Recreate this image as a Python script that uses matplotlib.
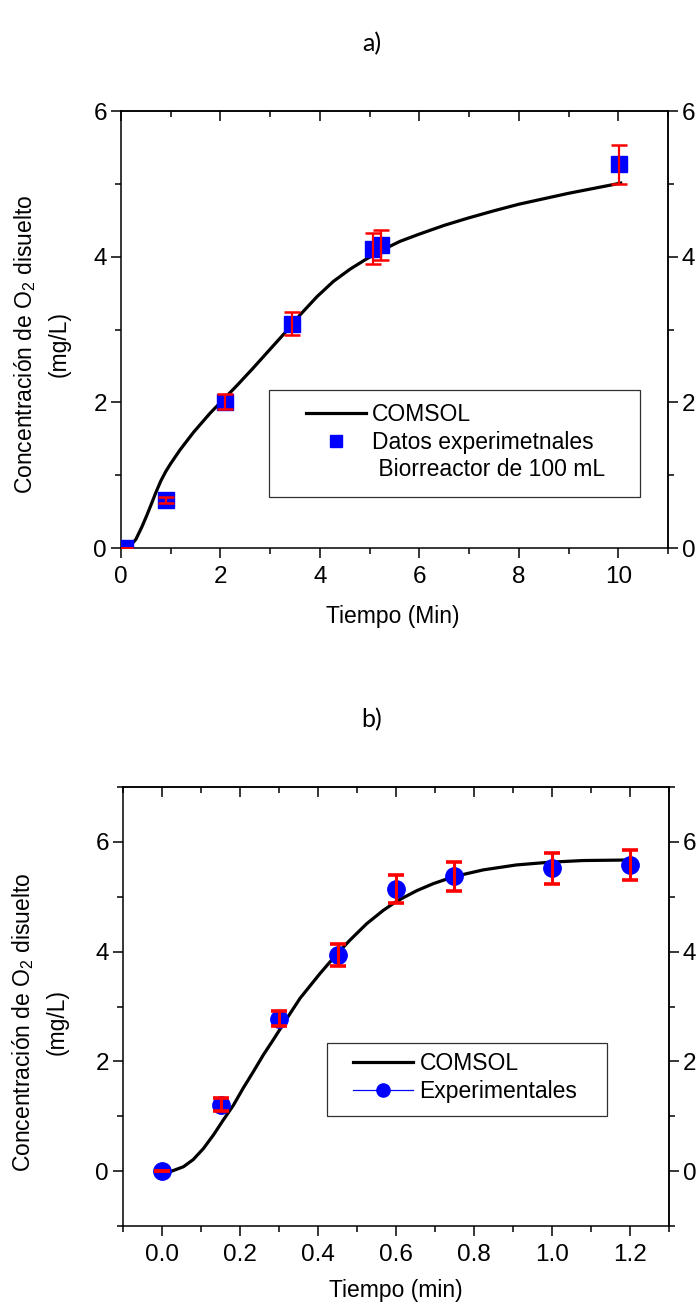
import matplotlib
matplotlib.use("Agg")
import matplotlib.pyplot as plt
from matplotlib.ticker import MultipleLocator
from matplotlib.lines import Line2D
from matplotlib.patches import Rectangle

plt.rcParams["font.family"] = ["Liberation Sans", "DejaVu Sans"]
plt.rcParams["mathtext.default"] = "regular"

# panel a) - 100 mL bioreactor
exp_a_t = [0.08, 0.9, 2.09, 3.43, 5.06, 5.22, 10.02]
exp_a_c = [0.0, 0.66, 2.01, 3.08, 4.11, 4.16, 5.27]
exp_a_err = [0.0, 0.04, 0.1, 0.16, 0.21, 0.21, 0.27]

sim_a_t = [0.15, 0.3, 0.42, 0.52, 0.62, 0.7, 0.8, 0.9, 1.0, 1.19, 1.46,
           1.79, 2.06, 2.33, 2.63, 2.96, 3.33, 3.6, 3.94, 4.27, 4.61, 4.94,
           5.28, 5.61, 6.0, 6.5, 6.98, 7.5, 8.0, 9.0, 10.05]
sim_a_c = [0.0, 0.12, 0.29, 0.45, 0.62, 0.76, 0.92, 1.05, 1.16, 1.35, 1.59,
           1.85, 2.04, 2.23, 2.45, 2.7, 2.98, 3.2, 3.45, 3.66, 3.83, 3.97,
           4.1, 4.21, 4.31, 4.43, 4.53, 4.63, 4.72, 4.87, 5.01]

# panel b)
exp_b_t = [0.0, 0.15, 0.3, 0.45, 0.6, 0.75, 1.0, 1.2]
exp_b_c = [0.0, 1.21, 2.78, 3.94, 5.14, 5.37, 5.52, 5.58]
exp_b_err = [0.0, 0.12, 0.14, 0.2, 0.25, 0.265, 0.28, 0.28]

sim_b_t = [0.0, 0.025, 0.055, 0.08, 0.106, 0.132, 0.157, 0.183, 0.208, 0.234,
           0.26, 0.285, 0.32, 0.354, 0.405, 0.45, 0.482, 0.525, 0.567, 0.602,
           0.653, 0.696, 0.75, 0.824, 0.909, 0.995, 1.08, 1.2]
sim_b_c = [0.0, 0.0, 0.08, 0.21, 0.41, 0.66, 0.93, 1.2, 1.51, 1.81,
           2.12, 2.39, 2.78, 3.15, 3.6, 3.97, 4.21, 4.51, 4.75, 4.92,
           5.11, 5.24, 5.37, 5.49, 5.58, 5.63, 5.66, 5.67]

W, H = 696, 1307
FS = 16.5
TFS = 17.5


def fx(px):
    return px / W


def fy(py):
    return 1 - py / H


def style_axes(ax, xmaj, xmin, ymaj, ymin):
    for axis, (mj, mn) in ((ax.xaxis, (xmaj, xmin)), (ax.yaxis, (ymaj, ymin))):
        axis.set_major_locator(MultipleLocator(mj))
        axis.set_minor_locator(MultipleLocator(mn))
    ax.tick_params(which="both", direction="out", width=1.1, labelsize=TFS)
    ax.tick_params(axis="x", pad=6)
    ax.tick_params(axis="y", pad=3)
    ax.tick_params(which="major", length=7)
    ax.tick_params(which="minor", length=4)
    for s in ax.spines.values():
        s.set_linewidth(1.1)

    top = ax.secondary_xaxis("top")
    top.xaxis.set_major_locator(MultipleLocator(xmaj))
    top.xaxis.set_minor_locator(MultipleLocator(xmin))
    top.tick_params(which="both", direction="in", width=1.1, labeltop=False)
    top.tick_params(which="major", length=7)
    top.tick_params(which="minor", length=4)
    top.spines["top"].set_linewidth(1.1)

    right = ax.secondary_yaxis("right")
    right.yaxis.set_major_locator(MultipleLocator(ymaj))
    right.yaxis.set_minor_locator(MultipleLocator(ymin))
    right.tick_params(which="both", direction="out", width=1.1,
                      labelsize=TFS, pad=3)
    right.tick_params(which="major", length=7)
    right.tick_params(which="minor", length=4)
    right.spines["right"].set_linewidth(1.1)


fig = plt.figure(figsize=(W / 100, H / 100), dpi=100)

# ---- a)
ax1 = fig.add_axes([fx(121), fy(548), fx(668 - 121), (548 - 111) / H])
ax1.plot(sim_a_t, sim_a_c, color="black", lw=2.3, zorder=2)
ax1.plot(exp_a_t, exp_a_c, "s", color="blue", ms=11, zorder=3)
ax1.errorbar(exp_a_t, exp_a_c, yerr=exp_a_err, fmt="none", ecolor="red",
             elinewidth=1.6, capsize=5.5, capthick=1.8, zorder=4)
ax1.set_xlim(0, 11)
ax1.set_ylim(0, 6)
style_axes(ax1, 2, 1, 2, 1)

fig.text(fx(372), fy(44), "a)", family=["Lato", "DejaVu Sans"], fontsize=18,
         ha="center", va="center")
fig.text(fx(25), fy(344), "Concentración de O$_2$ disuelto", rotation=90,
         fontsize=FS, ha="center", va="center")
fig.text(fx(59), fy(344), "(mg/L)", rotation=90, fontsize=FS,
         ha="center", va="center")
fig.text(fx(393), fy(617), "Tiempo (Min)", fontsize=FS, ha="center", va="center")

handles_a = [Line2D([], [], color="black", lw=2.3),
             Line2D([], [], ls="none", marker="s", color="blue", ms=9),
             Line2D([], [], ls="none")]
labels_a = ["COMSOL", "Datos experimetnales", " Biorreactor de 100 mL"]
fig.legend(handles_a, labels_a, loc="upper left",
           bbox_to_anchor=(fx(306), fy(403)), frameon=False, fontsize=FS,
           handlelength=2.6, handletextpad=0.26, labelspacing=0.2,
           borderpad=0, borderaxespad=0)
fig.add_artist(Rectangle((fx(269), fy(497)), fx(640 - 269), (497 - 390) / H,
                         transform=fig.transFigure, fill=False,
                         ec="#303030", lw=0.9))

# ---- b)
ax2 = fig.add_axes([fx(123), fy(1226), fx(669 - 123), (1226 - 787) / H])
ax2.plot(sim_b_t, sim_b_c, color="black", lw=2.3, zorder=2)
ax2.plot(exp_b_t, exp_b_c, "o", color="blue", ms=12.5, zorder=3)
ax2.errorbar(exp_b_t, exp_b_c, yerr=exp_b_err, fmt="none", ecolor="red",
             elinewidth=2.2, capsize=6, capthick=2.6, zorder=4)
ax2.set_xlim(-0.1, 1.3)
ax2.set_ylim(-1, 7)
style_axes(ax2, 0.2, 0.1, 2, 1)

fig.text(fx(372), fy(720), "b)", family=["Lato", "DejaVu Sans"], fontsize=18,
         ha="center", va="center")
fig.text(fx(23), fy(1022), "Concentración de O$_2$ disuelto", rotation=90,
         fontsize=FS, ha="center", va="center")
fig.text(fx(57), fy(1022), "(mg/L)", rotation=90, fontsize=FS,
         ha="center", va="center")
fig.text(fx(396), fy(1290), "Tiempo (min)", fontsize=FS, ha="center", va="center")

handles_b = [Line2D([], [], color="black", lw=2.3),
             Line2D([], [], color="blue", lw=0.9, marker="o", ms=9.5)]
labels_b = ["COMSOL", "Experimentales"]
fig.legend(handles_b, labels_b, loc="upper left",
           bbox_to_anchor=(fx(353), fy(1052)), frameon=False, fontsize=FS,
           handlelength=2.6, handletextpad=0.3, labelspacing=0.2,
           borderpad=0, borderaxespad=0)
fig.add_artist(Rectangle((fx(327), fy(1116)), fx(607 - 327), (1116 - 1043) / H,
                         transform=fig.transFigure, fill=False,
                         ec="#303030", lw=0.9))

fig.savefig("out.png", dpi=100)
